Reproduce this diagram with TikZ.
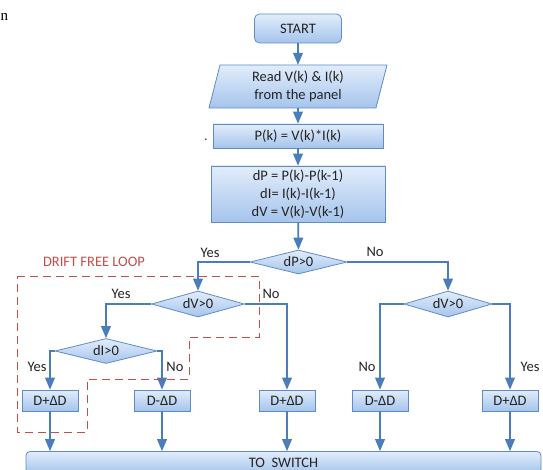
\documentclass[tikz,border=0pt]{standalone}
\usepackage{fontspec}
\setmainfont{Carlito}
\newfontfamily\pagefont{Liberation Serif}
\usetikzlibrary{arrows}
\usetikzlibrary{shapes.geometric}
\usetikzlibrary{calc}

\definecolor{lineblue}{RGB}{74,126,187}
\definecolor{edgeblue}{RGB}{95,140,200}
\definecolor{topblue}{RGB}{226,237,251}
\definecolor{botblue}{RGB}{165,196,236}
\definecolor{loopred}{RGB}{192,80,77}
\definecolor{txt}{RGB}{35,35,35}

\tikzset{
  blk/.style={draw=edgeblue, line width=0.8pt, top color=topblue, bottom color=botblue, text=txt, inner sep=0pt, align=center},
  proc/.style={blk, rectangle},
  decide/.style={blk, diamond, shape aspect=4},
  arr/.style={->, draw=lineblue, line width=1.8pt},
  lbl/.style={text=txt, inner sep=0pt},
}

\begin{document}
\begin{tikzpicture}[x=1pt, y=-1pt, >=triangle 45, font=\fontsize{14.5pt}{18pt}\selectfont]
  \useasboundingbox (0,0) rectangle (543,470);
  \clip (0,0) rectangle (543,470);

  % page remnants
  \node[anchor=west, inner sep=0pt, font=\fontsize{15pt}{18pt}\pagefont] (pg) at (0.5,17) {n};
  \node[lbl, text=lineblue!60!black] (dot) at (206,140) {.};

  % main column
  \node[proc, rounded corners=5pt, minimum width=87pt, minimum height=29pt] (start) at (298,28.5) {START};
  \path[blk] (220,65) -- (387,65) -- (376,108) -- (209,108) -- cycle;
  \node[lbl, align=center, minimum height=43pt] (read) at (298,86.5) {Read V(k) \& I(k)\\from the panel};
  \node[proc, minimum width=170pt, minimum height=24pt] (pk) at (298,136) {P(k) = V(k)*I(k)};
  \node[proc, minimum width=174pt, minimum height=56pt] (diff) at (298,194) {dP = P(k)-P(k-1)\\dI= I(k)-I(k-1)\\dV = V(k)-V(k-1)};

  % decisions
  \node[decide, minimum width=97pt, minimum height=24pt] (dp) at (298.5,262) {dP>0};
  \node[decide, minimum width=93pt, minimum height=26pt] (dvl) at (198,304) {dV>0};
  \node[decide, minimum width=88pt, minimum height=26pt] (dvr) at (448,304) {dV>0};
  \node[decide, minimum width=102pt, minimum height=25pt] (di) at (106,351) {dI>0};

  % duty steps
  \foreach \name/\x/\text in {b1/50/D+ΔD, b2/162/D-ΔD, b3/287/D+ΔD, b4/380/D-ΔD, b5/510/D+ΔD}
    \node[proc, minimum width=56pt, minimum height=21pt] (\name) at (\x,400.5) {\text};

  \node[proc, rounded corners=4pt, minimum width=515pt, minimum height=22pt] (sw) at (283.5,462.5) {TO\ \ SWITCH};

  % connectors
  \draw[arr] (start) -- (read);
  \draw[arr] (read) -- (pk);
  \draw[arr] (pk) -- (diff);
  \draw[arr] (diff) -- (dp);
  \draw[arr] (dp.west) -| (dvl.north);
  \draw[arr] (dp.east) -| (dvr.north);
  \draw[arr] (dvl.west) -| (di.north);
  \draw[arr] (dvl.east) -| (b3.north);
  \draw[arr] (di.west) -| (b1.north);
  \draw[arr] (di.east) -| (b2.north);
  \draw[arr] (dvr.west) -| (b4.north);
  \draw[arr] (dvr.east) -| (b5.north);
  \foreach \name in {b1,b2,b3,b4,b5}
    \draw[arr] (\name) -- (\name |- sw.north);

  % branch labels
  \node[lbl] (y1) at (210,253) {Yes};
  \node[lbl] (n1) at (375,252) {No};
  \node[lbl] (y2) at (121,294) {Yes};
  \node[lbl] (n2) at (271,294) {No};
  \node[lbl] (y3) at (37,367) {Yes};
  \node[lbl] (n3) at (175,367) {No};
  \node[lbl] (n4) at (367,367) {No};
  \node[lbl] (y4) at (530,367) {Yes};

  % drift free loop
  \node[lbl, text=loopred] (loop) at (94,262) {DRIFT FREE LOOP};
  \draw[loopred, line width=0.9pt, dash pattern=on 8pt off 5pt]
    (17,276) -- (259,276) -- (259,337) -- (189,337) -- (189,379) -- (87,379) -- (87,432) -- (17,432) -- cycle;
\end{tikzpicture}
\end{document}
